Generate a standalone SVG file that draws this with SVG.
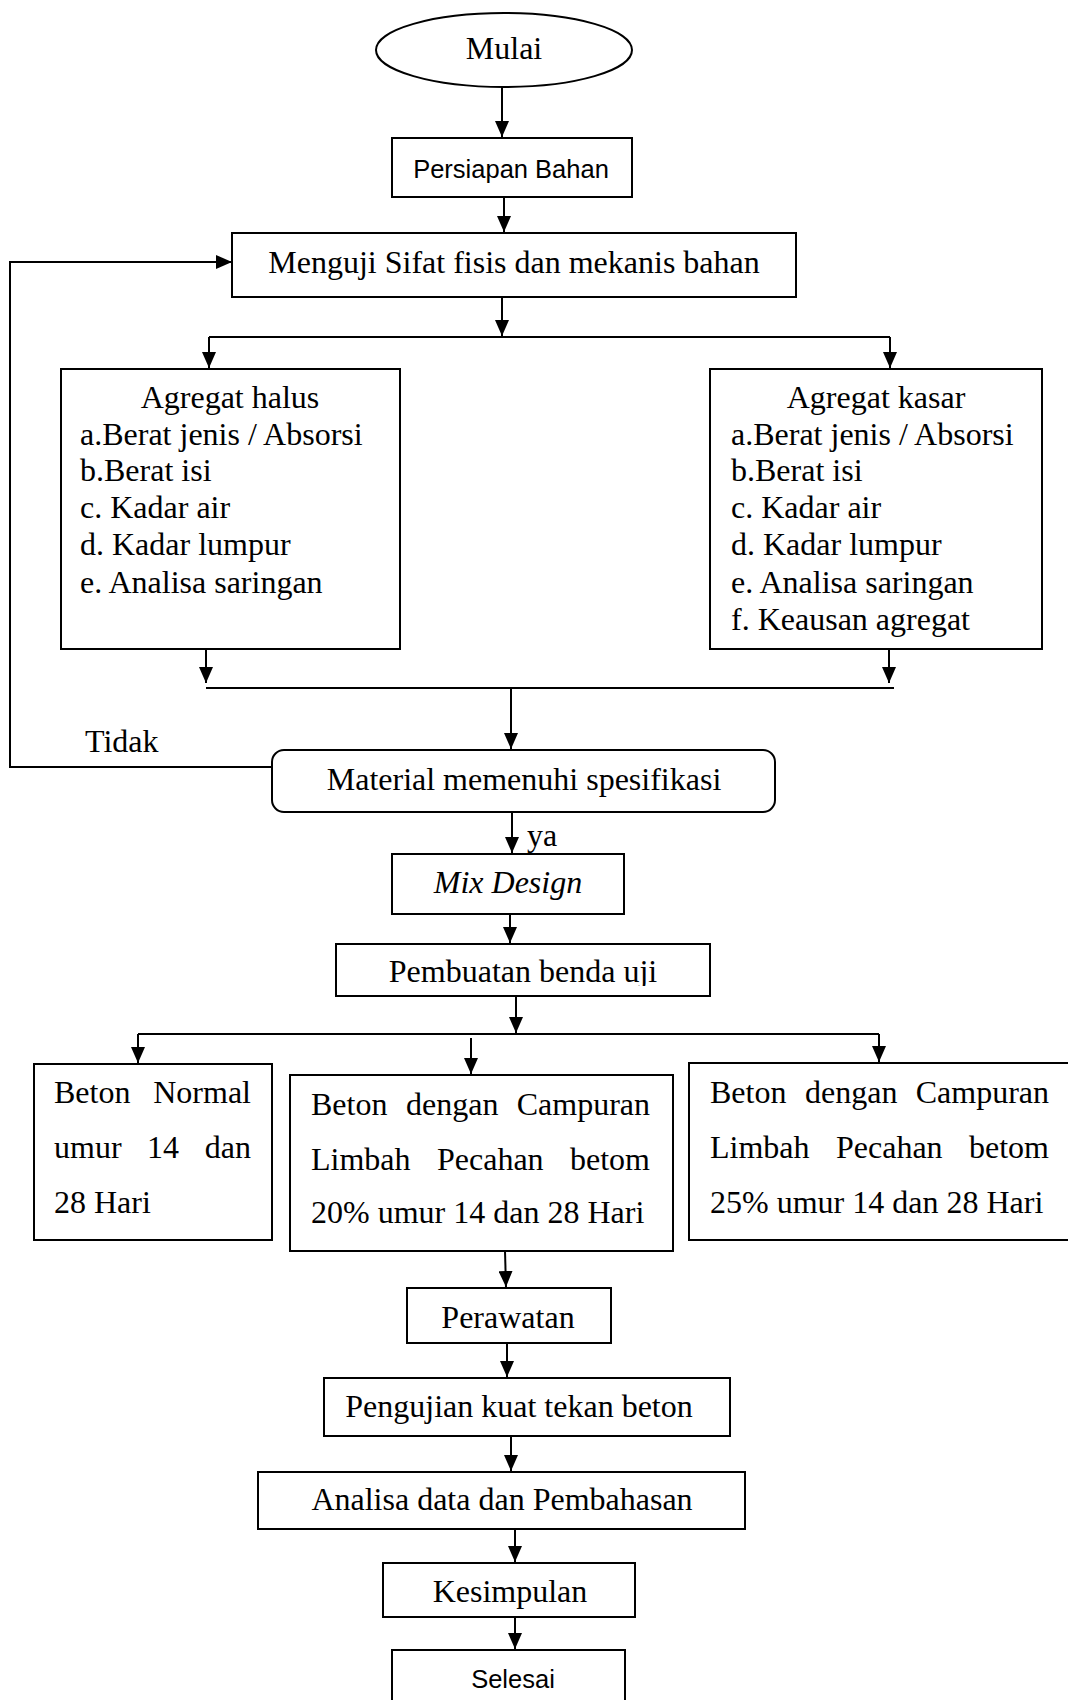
<svg xmlns="http://www.w3.org/2000/svg" width="1068" height="1700" viewBox="0 0 1068 1700">
<style>
.b{fill:#fff;stroke:#000;stroke-width:2}
.o{fill:none;stroke:#000;stroke-width:2}
.t{font-family:"Liberation Serif","Times New Roman",serif;font-size:32px;fill:#000}
.s{font-family:"Liberation Sans",Arial,sans-serif;font-size:25.5px;fill:#000}
.c{text-anchor:middle}
.e{text-anchor:end}
.l{fill:none;stroke:#000;stroke-width:2}
.a{marker-end:url(#ah)}
</style>
<defs>
<marker id="ah" markerUnits="userSpaceOnUse" markerWidth="16" markerHeight="14" refX="16" refY="7" orient="auto" viewBox="0 0 16 14">
<path d="M0,0 L16,7 L0,14 Z" fill="#000"/>
</marker>
<clipPath id="cp"><rect x="336" y="944" width="374" height="42"/></clipPath>
</defs>
<rect width="1068" height="1700" fill="#fff"/>
<g id="connectors">
<path class="l a" d="M502,87 L502,137"/>
<path class="l a" d="M504,197 L504,232"/>
<path class="l a" d="M272,767 L10,767 L10,262 L232,262"/>
<path class="l a" d="M502,297 L502,336"/>
<path class="l" d="M209,337 L890,337"/>
<path class="l a" d="M209,337 L209,368"/>
<path class="l a" d="M890,337 L890,368"/>
<path class="l a" d="M206,649 L206,683"/>
<path class="l a" d="M889,649 L889,683"/>
<path class="l" d="M206,688 L894,688"/>
<path class="l a" d="M511,688 L511,749"/>
<path class="l a" d="M512,812 L512,853"/>
<path class="l a" d="M510,914 L510,943"/>
<path class="l a" d="M516,996 L516,1033"/>
<path class="l" d="M138,1034 L879,1034"/>
<path class="l a" d="M138,1034 L138,1063"/>
<path class="l a" d="M879,1034 L879,1062"/>
<path class="l a" d="M471,1038 L471,1074"/>
<path class="l a" d="M505,1251 L506,1287"/>
<path class="l a" d="M507,1343 L507,1377"/>
<path class="l a" d="M511,1436 L511,1471"/>
<path class="l a" d="M515,1529 L515,1562"/>
<path class="l a" d="M515,1617 L515,1649"/>
<text class="t" x="85" y="752">Tidak</text>
<text class="t" x="527" y="846">ya</text>
</g>
<g id="mulai">
<ellipse class="b" cx="504" cy="50" rx="128" ry="37"/>
<text class="t c" x="504" y="59">Mulai</text>
</g>
<g id="persiapan">
<rect class="b" x="392" y="138" width="240" height="59"/>
<text class="s c" x="511" y="178">Persiapan Bahan</text>
</g>
<g id="menguji">
<rect class="b" x="232" y="233" width="564" height="64"/>
<text class="t c" x="514" y="273">Menguji Sifat fisis dan mekanis bahan</text>
</g>
<g id="agregat-halus">
<rect class="b" x="61" y="369" width="339" height="280"/>
<text class="t c" x="230" y="408">Agregat halus</text>
<text class="t" x="80" y="445">a.Berat jenis / Absorsi</text>
<text class="t" x="80" y="481">b.Berat isi</text>
<text class="t" x="80" y="518">c. Kadar air</text>
<text class="t" x="80" y="555">d. Kadar lumpur</text>
<text class="t" x="80" y="593">e. Analisa saringan</text>
</g>
<g id="agregat-kasar">
<rect class="b" x="710" y="369" width="332" height="280"/>
<text class="t c" x="876" y="408">Agregat kasar</text>
<text class="t" x="731" y="445">a.Berat jenis / Absorsi</text>
<text class="t" x="731" y="481">b.Berat isi</text>
<text class="t" x="731" y="518">c. Kadar air</text>
<text class="t" x="731" y="555">d. Kadar lumpur</text>
<text class="t" x="731" y="593">e. Analisa saringan</text>
<text class="t" x="731" y="630">f. Keausan agregat</text>
</g>
<g id="material">
<rect class="b" x="272" y="750" width="503" height="62" rx="12" ry="12"/>
<text class="t c" x="524" y="790">Material memenuhi spesifikasi</text>
</g>
<g id="mix-design">
<rect class="b" x="392" y="854" width="232" height="60"/>
<text class="t c" x="508" y="893" font-style="italic">Mix Design</text>
</g>
<g id="pembuatan">
<rect class="b" x="336" y="944" width="374" height="52"/>
<text class="t c" x="523" y="982" clip-path="url(#cp)">Pembuatan benda uji</text>
</g>
<g id="beton-normal">
<rect class="b" x="34" y="1064" width="238" height="176"/>
<text class="t" x="54" y="1103">Beton</text>
<text class="t e" x="251" y="1103">Normal</text>
<text class="t" x="54" y="1158">umur</text>
<text class="t c" x="163" y="1158">14</text>
<text class="t e" x="251" y="1158">dan</text>
<text class="t" x="54" y="1213">28 Hari</text>
</g>
<g id="beton-20">
<rect class="b" x="290" y="1075" width="383" height="176"/>
<text class="t" x="311" y="1115">Beton</text>
<text class="t" x="406" y="1115">dengan</text>
<text class="t e" x="650" y="1115">Campuran</text>
<text class="t" x="311" y="1170">Limbah</text>
<text class="t" x="437" y="1170">Pecahan</text>
<text class="t e" x="650" y="1170">betom</text>
<text class="t" x="311" y="1223">20% umur 14 dan 28 Hari</text>
</g>
<g id="beton-25">
<path class="o" d="M1070,1063 L689,1063 L689,1240 L1070,1240"/>
<text class="t" x="710" y="1103">Beton</text>
<text class="t" x="805" y="1103">dengan</text>
<text class="t e" x="1049" y="1103">Campuran</text>
<text class="t" x="710" y="1158">Limbah</text>
<text class="t" x="836" y="1158">Pecahan</text>
<text class="t e" x="1049" y="1158">betom</text>
<text class="t" x="710" y="1213">25% umur 14 dan 28 Hari</text>
</g>
<g id="perawatan">
<rect class="b" x="407" y="1288" width="204" height="55"/>
<text class="t c" x="508" y="1328">Perawatan</text>
</g>
<g id="pengujian">
<rect class="b" x="324" y="1378" width="406" height="58"/>
<text class="t c" x="519" y="1417">Pengujian kuat tekan beton</text>
</g>
<g id="analisa">
<rect class="b" x="258" y="1472" width="487" height="57"/>
<text class="t c" x="502" y="1510">Analisa data dan Pembahasan</text>
</g>
<g id="kesimpulan">
<rect class="b" x="383" y="1563" width="252" height="54"/>
<text class="t c" x="510" y="1602">Kesimpulan</text>
</g>
<g id="selesai">
<path class="b" d="M392,1702 L392,1650 L625,1650 L625,1702"/>
<text class="s c" x="513" y="1688" font-size="26">Selesai</text>
</g>
</svg>
